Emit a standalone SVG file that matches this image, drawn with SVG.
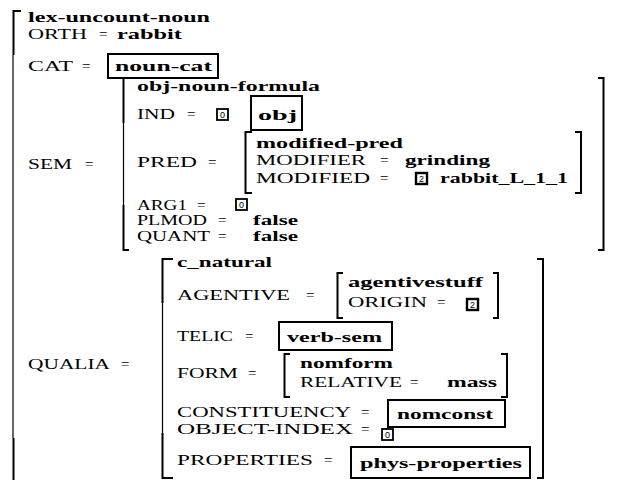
<svg xmlns="http://www.w3.org/2000/svg" width="617" height="480" viewBox="0 0 617 480">
  <style>
    text { font-family: "Liberation Serif", "Times New Roman", serif; font-size: 15px; fill: #000; }
    .b { font-weight: bold; }
    .tagnum { font-family: "Liberation Sans", Arial, sans-serif; font-size: 9px; font-weight: normal; }
    .brk { fill: none; stroke: #000; stroke-width: 2; }
    .thin { fill: none; stroke: #000; stroke-width: 1.2; }
    .box { fill: none; stroke: #000; stroke-width: 2; }
    .tag { fill: #fff; stroke: #000; stroke-width: 1.8; }
    .tag2 { fill: #fff; stroke: #000; stroke-width: 2.4; }
  </style>

  <rect width="617" height="480" fill="#fff"/>

  <!-- outer feature structure: lex-uncount-noun -->
  <g id="lex-uncount-noun">
    <path class="brk" d="M21,11 H13.5 V55"/>
    <path class="thin" d="M13,55 V438"/>
    <path class="brk" d="M13.5,438 V480"/>
    <text class="b" x="28" y="22" textLength="182" lengthAdjust="spacingAndGlyphs">lex-uncount-noun</text>

    <g id="orth">
      <text x="28" y="39" textLength="59" lengthAdjust="spacingAndGlyphs">ORTH</text>
      <text x="99" y="39">=</text>
      <text class="b" x="117" y="39" textLength="65" lengthAdjust="spacingAndGlyphs">rabbit</text>
    </g>

    <g id="cat">
      <text x="28" y="71" textLength="45" lengthAdjust="spacingAndGlyphs">CAT</text>
      <text x="82" y="71">=</text>
      <rect class="box" x="108" y="54" width="110" height="24"/>
      <text class="b" x="115" y="71" textLength="97" lengthAdjust="spacingAndGlyphs">noun-cat</text>
    </g>

    <g id="sem">
      <text x="28" y="169" textLength="44" lengthAdjust="spacingAndGlyphs">SEM</text>
      <text x="85" y="169">=</text>
    </g>

    <g id="qualia">
      <text x="28" y="369" textLength="82" lengthAdjust="spacingAndGlyphs">QUALIA</text>
      <text x="121" y="369">=</text>
    </g>
  </g>

  <!-- SEM value: obj-noun-formula -->
  <g id="obj-noun-formula">
    <path class="brk" d="M129,78 H123.5 V123"/>
    <path class="thin" d="M123.5,123 V205"/>
    <path class="brk" d="M123.5,205 V250 H129"/>
    <path class="brk" d="M598,78 H603.5 V250 H598"/>
    <text class="b" x="137" y="91" textLength="183" lengthAdjust="spacingAndGlyphs">obj-noun-formula</text>

    <g id="ind">
      <text x="137" y="119" textLength="38" lengthAdjust="spacingAndGlyphs">IND</text>
      <text x="187" y="119">=</text>
      <rect class="tag" x="217" y="109" width="11" height="11"/>
      <text class="tagnum" x="222.5" y="118" text-anchor="middle">0</text>
      <rect class="box" x="251" y="96" width="51" height="34"/>
      <text class="b" x="258" y="120" textLength="39" lengthAdjust="spacingAndGlyphs">obj</text>
    </g>

    <g id="pred">
      <text x="137" y="167" textLength="60" lengthAdjust="spacingAndGlyphs">PRED</text>
      <text x="208" y="167">=</text>
    </g>

    <g id="arg1">
      <text x="137" y="210" textLength="50" lengthAdjust="spacingAndGlyphs">ARG1</text>
      <text x="197" y="210">=</text>
      <rect class="tag" x="236" y="199" width="11" height="11"/>
      <text class="tagnum" x="241.5" y="208" text-anchor="middle">0</text>
    </g>

    <g id="plmod">
      <text x="137" y="225" textLength="70" lengthAdjust="spacingAndGlyphs">PLMOD</text>
      <text x="218" y="225">=</text>
      <text class="b" x="253" y="225" textLength="45" lengthAdjust="spacingAndGlyphs">false</text>
    </g>

    <g id="quant">
      <text x="137" y="241" textLength="73" lengthAdjust="spacingAndGlyphs">QUANT</text>
      <text x="218" y="241">=</text>
      <text class="b" x="253" y="241" textLength="45" lengthAdjust="spacingAndGlyphs">false</text>
    </g>
  </g>

  <!-- PRED value: modified-pred -->
  <g id="modified-pred">
    <path class="brk" d="M252,132 H245.5 V193 H252"/>
    <path class="brk" d="M575,132 H581 V193 H575"/>
    <text class="b" x="256" y="148" textLength="147" lengthAdjust="spacingAndGlyphs">modified-pred</text>
    <text x="256" y="165" textLength="110" lengthAdjust="spacingAndGlyphs">MODIFIER</text>
    <text x="380" y="165">=</text>
    <text class="b" x="405" y="165" textLength="85" lengthAdjust="spacingAndGlyphs">grinding</text>
    <text x="256" y="183" textLength="114" lengthAdjust="spacingAndGlyphs">MODIFIED</text>
    <text x="380" y="183">=</text>
    <rect class="tag2" x="416" y="173" width="11" height="11"/>
    <text class="tagnum" x="421.5" y="182" text-anchor="middle">2</text>
    <text class="b" x="440" y="183" textLength="128" lengthAdjust="spacingAndGlyphs">rabbit_L_1_1</text>
  </g>

  <!-- QUALIA value: c_natural -->
  <g id="c_natural">
    <path class="brk" d="M173,259 H162.5 V303"/>
    <path class="thin" d="M162.5,303 V433"/>
    <path class="brk" d="M162.5,433 V478 H173"/>
    <path class="brk" d="M537,259 H543 V478 H537"/>
    <text class="b" x="177" y="267" textLength="95" lengthAdjust="spacingAndGlyphs">c_natural</text>

    <g id="agentive">
      <text x="177" y="300" textLength="113" lengthAdjust="spacingAndGlyphs">AGENTIVE</text>
      <text x="306" y="300">=</text>
      <path class="brk" d="M343,273 H337.5 V318 H343"/>
      <path class="brk" d="M493,273 H498 V318 H493"/>
      <text class="b" x="348" y="287" textLength="135" lengthAdjust="spacingAndGlyphs">agentivestuff</text>
      <text x="348" y="307" textLength="79" lengthAdjust="spacingAndGlyphs">ORIGIN</text>
      <text x="437" y="307">=</text>
      <rect class="tag2" x="467" y="299" width="11" height="11"/>
      <text class="tagnum" x="472.5" y="308" text-anchor="middle">2</text>
    </g>

    <g id="telic">
      <text x="177" y="341" textLength="56" lengthAdjust="spacingAndGlyphs">TELIC</text>
      <text x="245" y="341">=</text>
      <rect class="box" x="279" y="322" width="113" height="28"/>
      <text class="b" x="287" y="342" textLength="95" lengthAdjust="spacingAndGlyphs">verb-sem</text>
    </g>

    <g id="form">
      <text x="177" y="378" textLength="61" lengthAdjust="spacingAndGlyphs">FORM</text>
      <text x="248" y="378">=</text>
      <path class="brk" d="M290,354 H284.5 V397 H290"/>
      <path class="brk" d="M501,354 H507 V397 H501"/>
      <text class="b" x="300" y="368" textLength="93" lengthAdjust="spacingAndGlyphs">nomform</text>
      <text x="300" y="387" textLength="102" lengthAdjust="spacingAndGlyphs">RELATIVE</text>
      <text x="410" y="387">=</text>
      <text class="b" x="447" y="387" textLength="50" lengthAdjust="spacingAndGlyphs">mass</text>
    </g>

    <g id="constituency">
      <text x="177" y="417" textLength="174" lengthAdjust="spacingAndGlyphs">CONSTITUENCY</text>
      <text x="361" y="417">=</text>
      <rect class="box" x="388" y="400" width="117" height="27"/>
      <text class="b" x="397" y="419" textLength="96" lengthAdjust="spacingAndGlyphs">nomconst</text>
    </g>

    <g id="object-index">
      <text x="177" y="434" textLength="176" lengthAdjust="spacingAndGlyphs">OBJECT-INDEX</text>
      <text x="361" y="434">=</text>
      <rect class="tag" x="382" y="429" width="11" height="11"/>
      <text class="tagnum" x="387.5" y="438" text-anchor="middle">0</text>
    </g>

    <g id="properties">
      <text x="177" y="465" textLength="136" lengthAdjust="spacingAndGlyphs">PROPERTIES</text>
      <text x="324" y="465">=</text>
      <rect class="box" x="351" y="447" width="179" height="31"/>
      <text class="b" x="360" y="468" textLength="162" lengthAdjust="spacingAndGlyphs">phys-properties</text>
    </g>
  </g>
</svg>
